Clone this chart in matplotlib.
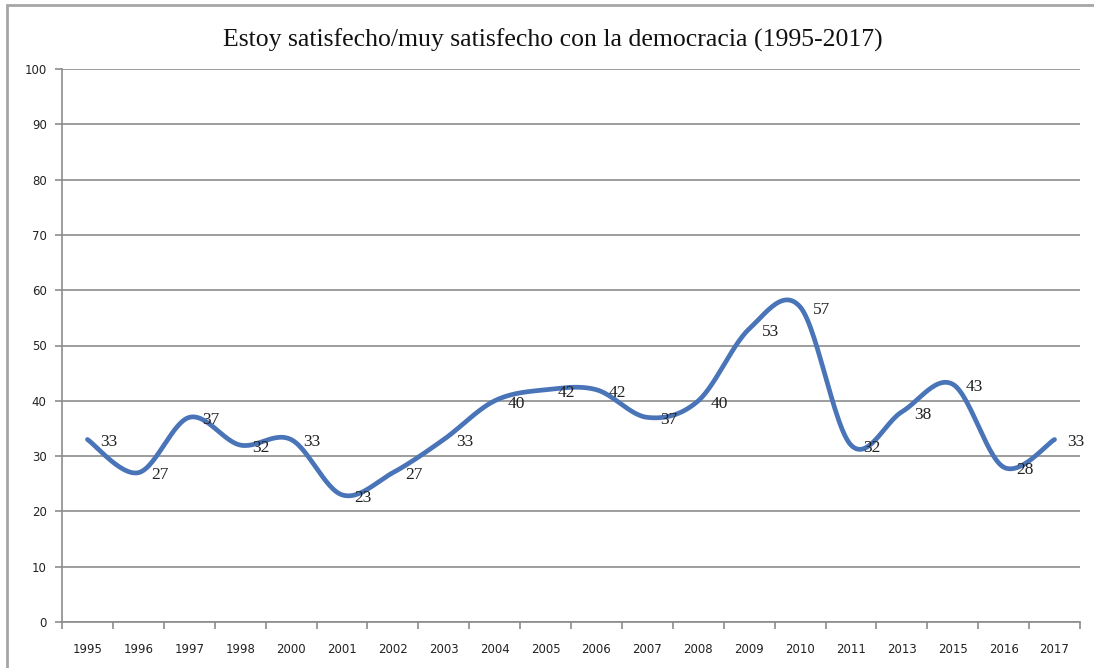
import numpy as np
import matplotlib
matplotlib.use("Agg")
import matplotlib.pyplot as plt
from matplotlib.patches import Rectangle

# ===== data =====
years = ["1995", "1996", "1997", "1998", "2000", "2001", "2002", "2003", "2004", "2005",
         "2006", "2007", "2008", "2009", "2010", "2011", "2013", "2015", "2016", "2017"]
satisfied = [33, 27, 37, 32, 33, 23, 27, 33, 40, 42,
             42, 37, 40, 53, 57, 32, 38, 43, 28, 33]
title = "Estoy satisfecho/muy satisfecho con la democracia (1995-2017)"


def smooth_curve(x, y, steps=30):
    # catmull-rom style bezier, like excel's "smoothed line"
    x = np.asarray(x, float)
    y = np.asarray(y, float)
    px = np.concatenate([[x[0]], x, [x[-1]]])
    py = np.concatenate([[y[0]], y, [y[-1]]])
    xs, ys = [], []
    t = np.linspace(0, 1, steps)
    for i in range(1, len(px) - 2):
        p0 = np.array([px[i], py[i]])
        p3 = np.array([px[i + 1], py[i + 1]])
        c1 = p0 + (np.array([px[i + 1], py[i + 1]]) - np.array([px[i - 1], py[i - 1]])) / 6
        c2 = p3 - (np.array([px[i + 2], py[i + 2]]) - np.array([px[i], py[i]])) / 6
        pts = ((1 - t)[:, None] ** 3 * p0 + 3 * ((1 - t) ** 2 * t)[:, None] * c1
               + 3 * ((1 - t) * t ** 2)[:, None] * c2 + (t ** 3)[:, None] * p3)
        xs.extend(pts[:, 0])
        ys.extend(pts[:, 1])
    return np.array(xs), np.array(ys)


fig = plt.figure(figsize=(10.94, 6.68), dpi=100)
fig.patch.set_facecolor("white")

# outer chart frame (only top/left visible in the crop)
fig.add_artist(Rectangle((7 / 1094, -0.1), 1.2, 1 - 5 / 668 + 0.1,
                         transform=fig.transFigure, fill=False,
                         edgecolor="#a6a6a6", linewidth=2))

ax = fig.add_axes([62 / 1094, 1 - 622 / 668, (1080 - 62) / 1094, (622 - 69) / 668])

x = np.arange(len(years))
sx, sy = smooth_curve(x, satisfied)
ax.plot(sx, sy, color="#4a74b8", linewidth=3.4, solid_capstyle="round", zorder=3)

for xi, v in zip(x, satisfied):
    ax.annotate(str(v), (xi, v), xytext=(9, -2), textcoords="offset points",
                ha="left", va="center", fontsize=12.5, family="Liberation Serif",
                color="#222222", zorder=4)

ax.set_xlim(-0.5, len(years) - 0.5)
ax.set_ylim(0, 100)
ax.set_yticks(np.arange(0, 101, 10))
ax.set_xticks(x)
ax.set_xticklabels(years)
ax.set_xticks(np.arange(-0.5, len(years), 1), minor=True)

ax.grid(axis="y", color="#8c8c8c", linewidth=1.2)
ax.set_axisbelow(True)
for s in ["top", "right"]:
    ax.spines[s].set_visible(False)
for s in ["left", "bottom"]:
    ax.spines[s].set_color("#8c8c8c")
    ax.spines[s].set_linewidth(1.2)

ax.tick_params(axis="x", which="major", length=0, pad=15, labelsize=8.5, labelcolor="#222222")
ax.tick_params(axis="x", which="minor", length=5, color="#8c8c8c", width=1.2)
ax.tick_params(axis="y", length=5, color="#8c8c8c", width=1.2, pad=6,
               labelsize=8.5, labelcolor="#222222")

fig.text(553 / 1094, 1 - 40 / 668, title, ha="center", va="center",
         fontsize=18.5, family="Liberation Serif", color="#111111")

fig.savefig("out.png", dpi=100)
